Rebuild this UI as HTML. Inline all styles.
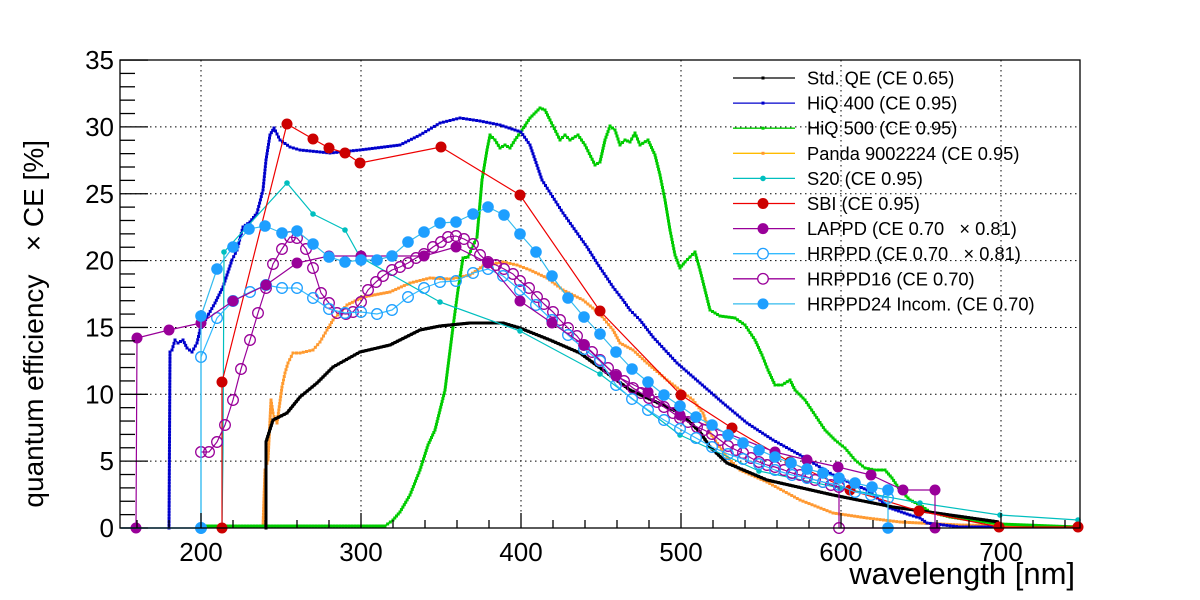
<!DOCTYPE html>
<html><head><meta charset="utf-8"><style>
html,body{margin:0;padding:0;background:#fff;}
svg{display:block;font-family:"Liberation Sans",sans-serif;}
</style></head><body>
<svg id="s" width="1200" height="600" viewBox="0 0 1200 600" xmlns="http://www.w3.org/2000/svg">
<rect width="1200" height="600" fill="#fff"/>
<g id="grid" stroke="#000" stroke-width="1" stroke-dasharray="1.5,3.5"></g>
<g id="data"></g>
<g id="axes" stroke="#000" stroke-width="1.3" fill="none"></g>
<g id="labels" font-size="26" fill="#000"></g>
<g id="legend"></g>
<text x="1075" y="584" font-size="31" text-anchor="end">wavelength [nm]</text>
<text transform="translate(43,140) rotate(-90)" font-size="28" text-anchor="end" xml:space="preserve">quantum efficiency&#160;&#160;&#160;× CE [%]</text>
</svg>
<script>
var NS="http://www.w3.org/2000/svg";
function el(p,t,a){var e=document.createElementNS(NS,t);for(var k in a)e.setAttribute(k,a[k]);document.getElementById(p).appendChild(e);return e;}
var X0=120,X1=1080,Y0=528,Y1=60;
function X(nm){return 121+(nm-150)*1.6;}
function Y(v){return 528-v*13.37;}
for(var nm=200;nm<=700;nm+=100){el("grid","line",{x1:X(nm),y1:Y1,x2:X(nm),y2:Y0});}
for(var v=5;v<=30;v+=5){el("grid","line",{x1:X0,y1:Y(v),x2:X1,y2:Y(v)});}
el("axes","rect",{x:X0,y:Y1,width:X1-X0,height:Y0-Y1});
for(var nm=160;nm<=740;nm+=20){var maj=nm%100==0;el("axes","line",{x1:X(nm),y1:Y0,x2:X(nm),y2:Y0-(maj?15:8)});}
for(var v=0;v<=35;v++){var maj=v%5==0;el("axes","line",{x1:X0,y1:Y(v),x2:X0+(maj?28:15),y2:Y(v)});}
for(var nm=200;nm<=700;nm+=100){var t=el("labels","text",{x:X(nm),y:561,"text-anchor":"middle"});t.textContent=nm;}
for(var v=0;v<=35;v+=5){var t=el("labels","text",{x:114,y:Y(v)+9,"text-anchor":"end"});t.textContent=v;}

function pl(pts,col,w){el("data","polyline",{points:pts.map(function(p){return p[0]+","+p[1]}).join(" "),fill:"none",stroke:col,"stroke-width":w,"stroke-linejoin":"round"});}
function sq(pts,col,s,step){
  for(var i=0;i<pts.length-1;i++){var a=pts[i],b=pts[i+1];var d=Math.hypot(b[0]-a[0],b[1]-a[1]);var n=Math.max(1,Math.round(d/step));
    for(var j=0;j<n;j++){var x=a[0]+(b[0]-a[0])*j/n,y=a[1]+(b[1]-a[1])*j/n;el("data","rect",{x:x-s/2,y:y-s/2,width:s,height:s,fill:col});}}
}
function circ(pts,col,r,open){pts.forEach(function(p){el("data","circle",{cx:p[0],cy:p[1],r:r,fill:open?"none":col,stroke:col,"stroke-width":open?1.3:0});});}

var orange=[[200,527],[263,527],[265,470],[268,460],[271,400],[273,413],[275,420],[277,423],[282,387],[285,373],[288,363],[293,353],[300,353],[313,350],[320,342],[327,330],[333,320],[347,305],[363,297],[390,292],[410,283],[430,278],[450,279],[470,275],[483,266],[503,262],[517,265],[530,270],[547,278],[563,290],[583,300],[600,314],[613,330],[620,343],[633,350],[647,363],[667,380],[680,390],[693,400],[703,413],[710,433],[727,457],[740,470],[767,482],[800,500],[833,513],[867,518],[900,522],[960,525],[1078,527]];
pl(orange,"#ffbb00",1.5);sq(orange,"#ff9933",3,3.2);

var green=[[200,526],[385,526],[393,520],[400,512],[410,495],[420,470],[428,445],[435,430],[445,390],[453,327],[458,290],[463,258],[468,257],[477,237],[482,180],[487,150],[490,135],[495,140],[500,148],[505,145],[510,148],[515,140],[522,130],[530,118],[540,108],[545,110],[550,120],[560,140],[565,135],[570,140],[578,135],[585,145],[595,165],[600,162],[605,140],[610,126],[615,130],[620,145],[625,140],[630,142],[635,133],[640,145],[648,140],[655,155],[660,175],[665,200],[670,230],[675,255],[680,268],[685,262],[690,257],[695,252],[700,270],[705,290],[710,310],[720,316],[735,318],[745,325],[755,340],[762,355],[768,370],[775,385],[782,385],[790,380],[795,390],[805,400],[815,415],[825,430],[835,440],[845,448],[855,460],[865,468],[875,470],[885,470],[892,478],[900,490],[910,500],[920,505],[930,512],[950,517],[970,520],[1000,524],[1078,527]];
pl(green,"#00cc00",2);sq(green,"#00cc00",3,3);

var blue=[[169,528],[170,352],[172,350],[175,340],[178,343],[183,340],[187,348],[192,352],[197,343],[200,330],[207,317],[215,303],[223,287],[232,260],[237,250],[243,227],[250,222],[257,213],[263,190],[266,160],[270,135],[274,128],[280,140],[290,147],[300,150],[330,153],[360,150],[400,145],[420,135],[440,123],[460,118],[480,121],[500,125],[521,132],[530,145],[542,180],[563,213],[587,247],[597,263],[613,287],[623,300],[630,310],[640,320],[653,337],[677,363],[700,383],[723,403],[747,423],[773,440],[800,455],[833,475],[867,490],[890,508],[910,515],[920,518],[927,523],[960,527],[1000,527]];
pl(blue,"#0000cc",1.5);sq(blue,"#0000cc",3,3.2);

var black=[[266,528],[266,442],[273,420],[287,413],[300,397],[317,383],[333,367],[360,352],[390,345],[400,340],[420,330],[440,326],[470,323],[503,323],[520,328],[550,340],[580,353],[630,390],[680,413],[700,432],[710,447],[727,463],[767,480],[833,495],[893,507],[950,515],[999,522]];
pl(black,"#000",3);sq(black,"#000",3,3);

var s20=[[222,528],[223,452],[224,252],[287,183],[313,214],[345,230],[360,257],[440,302],[520,331],[600,374],[680,435],[759,471],[840,488],[920,503],[1000,515],[1078,520]];
pl(s20,"#00bfbf",1.2);circ(s20.slice(2),"#00bfbf",2.8,false);

var sbi=[[222,528],[222,382],[287,124],[313,139],[329,148],[345,153],[360,163],[441,147],[520,195],[600,311],[681,395],[732,428],[790,462],[850,490],[919,511],[999,527],[1078,527]];
pl(sbi,"#ee0000",1.2);circ(sbi,"#cc0000",5.5,false);

var h16=[[201,452],[209,452],[217,442],[225,425],[233,400],[241,369],[250,340],[258,313],[266,288],[273,264],[282,249],[290,237],[297,238],[306,249],[313,268],[321,293],[329,303],[337,313],[346,314],[353,312],[361,302],[368,290],[376,282],[383,276],[392,270],[400,267],[408,263],[416,258],[424,254],[433,247],[441,242],[448,237],[456,236],[464,239],[473,244],[480,255],[488,262],[496,265],[504,269],[513,274],[520,281],[529,288],[537,297],[544,304],[553,312],[560,320],[568,328],[577,336],[584,345],[592,352],[600,360],[608,368],[616,375],[624,381],[633,388],[641,393],[649,398],[657,402],[664,407],[673,413],[680,418],[688,422],[697,427],[704,430],[712,434],[720,440],[728,446],[736,450],[743,453],[751,458],[759,462],[767,465],[775,467],[784,470],[792,473],[800,475],[807,477],[815,480],[823,482],[831,485],[839,487],[839,528]];
pl(h16.concat([[935,528]]),"#990099",1.2);circ(h16,"#990099",5.3,true);

var hr=[[201,528],[201,357],[217,318],[233,301],[250,292],[266,285],[282,288],[297,288],[313,298],[329,309],[345,313],[361,312],[377,314],[392,310],[408,297],[424,288],[440,282],[456,281],[473,273],[488,269],[503,276],[520,290],[536,305],[552,320],[568,335],[584,349],[600,361],[616,385],[632,399],[648,410],[664,420],[680,429],[696,438],[712,447],[728,454],[743,459],[759,464],[775,470],[792,475],[807,478],[823,482],[839,485],[855,492],[871,495],[888,498]];
pl(hr,"#33bbff",1.2);circ(hr,"#1e9fff",5.3,true);

var lap=[[136,528],[137,338],[169,330],[201,323],[233,301],[266,285],[297,263],[329,256],[361,256],[392,256],[424,256],[456,247],[488,263],[520,301],[552,323],[584,345],[616,376],[648,392],[680,415],[775,452],[807,460],[838,467],[871,475],[903,490],[935,490],[935,528]];
pl(lap,"#990099",1.2);circ(lap,"#990099",5.5,false);

var h24=[[201,528],[201,316],[217,269],[233,247],[249,229],[265,226],[282,233],[297,231],[313,244],[329,257],[345,262],[361,260],[377,260],[392,256],[408,242],[424,232],[440,223],[456,222],[473,214],[488,207],[504,215],[520,234],[536,252],[552,276],[568,298],[584,317],[600,334],[616,352],[632,369],[648,382],[664,395],[680,406],[696,417],[712,425],[728,435],[743,443],[759,450],[775,457],[791,463],[807,469],[823,473],[839,478],[855,483],[872,487],[888,490],[888,528]];
pl(h24,"#33bbee",1.2);circ(h24,"#1e9fff",5.8,false);
pl([[121,528],[201,528]],"#33bbff",1.5);

var N="\u00a0\u00a0\u00a0";
var L=[["Std. QE (CE 0.65)","#000","#000","sq"],["HiQ 400 (CE 0.95)","#0000cc","#0000cc","sq"],["HiQ 500 (CE 0.95)","#00cc00","#00cc00","sq"],["Panda 9002224 (CE 0.95)","#ffbb00","#ff9933","sq"],["S20 (CE 0.95)","#00bfbf","#00bfbf","sc"],["SBI (CE 0.95)","#ee0000","#cc0000","fc"],["LAPPD (CE 0.70"+N+"\u00d7 0.81)","#990099","#990099","fc"],["HRPPD (CE 0.70"+N+"\u00d7 0.81)","#33bbff","#1e9fff","oc"],["HRPPD16 (CE 0.70)","#990099","#990099","oc"],["HRPPD24 Incom. (CE 0.70)","#33bbee","#1e9fff","fc"]];
L.forEach(function(r,i){var y=78+i*25.1;
 el("legend","line",{x1:733,y1:y,x2:795,y2:y,stroke:r[1],"stroke-width":1.3});
 if(r[3]=="sq")el("legend","rect",{x:761.5,y:y-1.5,width:3,height:3,fill:r[2]});
 else if(r[3]=="sc")el("legend","circle",{cx:763,cy:y,r:2.8,fill:r[2]});
 else if(r[3]=="fc")el("legend","circle",{cx:763,cy:y,r:5.5,fill:r[2]});
 else el("legend","circle",{cx:763,cy:y,r:5.3,fill:"#fff",stroke:r[2],"stroke-width":1.3});
 var t=el("legend","text",{x:807,y:y+6.5,"font-size":"18.3",fill:"#000"});t.textContent=r[0];
});
</script>
</body></html>
